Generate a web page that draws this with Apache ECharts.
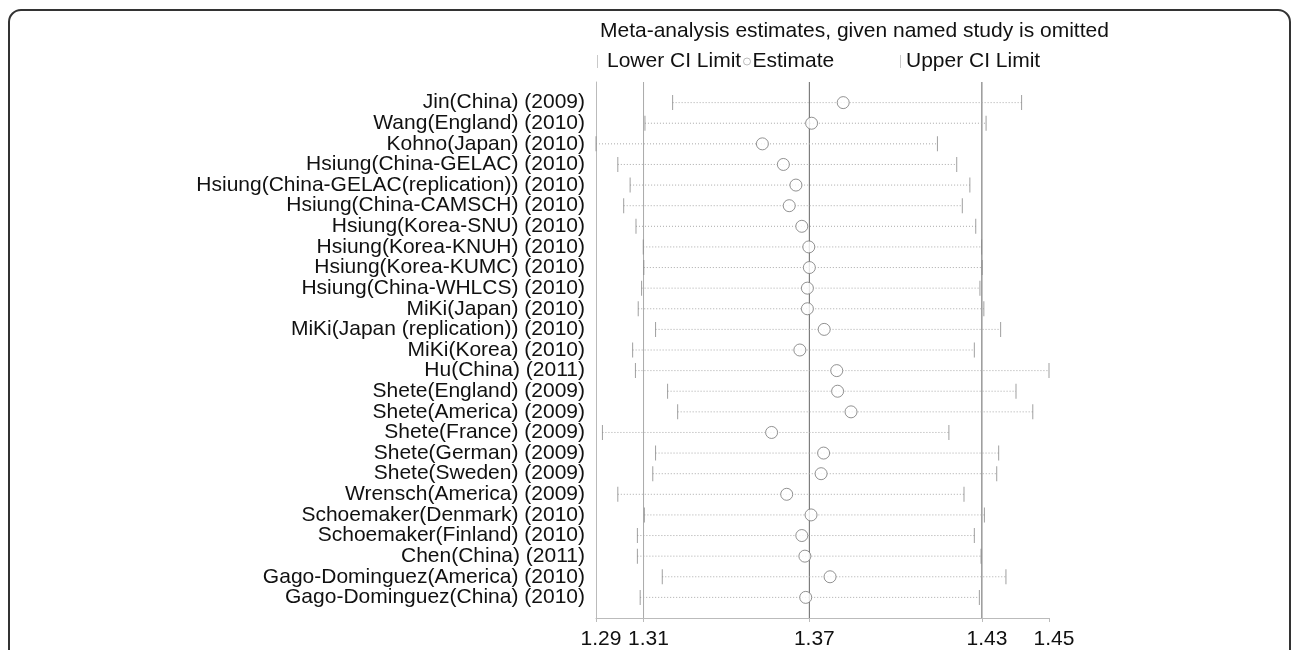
<!DOCTYPE html>
<html>
<head>
<meta charset="utf-8">
<script src="https://cdn.jsdelivr.net/npm/echarts@6/dist/echarts.min.js"></script>
<style>
  html, body { margin: 0; padding: 0; background: #fff; }
  #chart { width: 1292px; height: 650px; }
</style>
</head>
<body>
<div id="chart"></div>
<script>
// study omitted in each row
const studies = [
  'Jin(China) (2009)',
  'Wang(England) (2010)',
  'Kohno(Japan) (2010)',
  'Hsiung(China-GELAC) (2010)',
  'Hsiung(China-GELAC(replication)) (2010)',
  'Hsiung(China-CAMSCH) (2010)',
  'Hsiung(Korea-SNU) (2010)',
  'Hsiung(Korea-KNUH) (2010)',
  'Hsiung(Korea-KUMC) (2010)',
  'Hsiung(China-WHLCS) (2010)',
  'MiKi(Japan) (2010)',
  'MiKi(Japan (replication)) (2010)',
  'MiKi(Korea) (2010)',
  'Hu(China) (2011)',
  'Shete(England) (2009)',
  'Shete(America) (2009)',
  'Shete(France) (2009)',
  'Shete(German) (2009)',
  'Shete(Sweden) (2009)',
  'Wrensch(America) (2009)',
  'Schoemaker(Denmark) (2010)',
  'Schoemaker(Finland) (2010)',
  'Chen(China) (2011)',
  'Gago-Dominguez(America) (2010)',
  'Gago-Dominguez(China) (2010)',
]
const lowerCI = [1.3189, 1.3090, 1.2915, 1.2993, 1.3037, 1.3014, 1.3058, 1.3084, 1.3086, 1.3078,
  1.3066, 1.3128, 1.3046, 1.3056, 1.3171, 1.3207, 1.2938, 1.3128, 1.3118, 1.2993,
  1.3088, 1.3063, 1.3063, 1.3152, 1.3073]
const estimate = [1.3799, 1.3686, 1.3510, 1.3585, 1.3630, 1.3606, 1.3651, 1.3676, 1.3678, 1.3671,
  1.3671, 1.3731, 1.3644, 1.3776, 1.3779, 1.3827, 1.3543, 1.3729, 1.3720, 1.3597,
  1.3684, 1.3651, 1.3662, 1.3752, 1.3665]
const upperCI = [1.4437, 1.4310, 1.4136, 1.4205, 1.4252, 1.4225, 1.4273, 1.4294, 1.4296, 1.4288,
  1.4302, 1.4362, 1.4268, 1.4535, 1.4417, 1.4477, 1.4177, 1.4355, 1.4348, 1.4231,
  1.4304, 1.4268, 1.4292, 1.4381, 1.4286]
// pooled estimate with all studies: lower, estimate, upper
const overall = [1.3085, 1.3678, 1.4295]
const overallColors = ['#aaa', '#666', '#666']

const xMin = Math.min(...lowerCI)
const xMax = Math.max(...upperCI)
const xTicks = [xMin, ...overall, xMax]
// blank slots above and below the rows, like the padding in the original plot
const yCategories = ['', ...studies, ' ']
const rowIndex = studies.map((_, i) => i + 1)

const fontFamily = 'Liberation Sans, Arial, sans-serif'
const chart = echarts.init(document.getElementById('chart'), null, { renderer: 'canvas' })

chart.setOption({
  animation: false,
  backgroundColor: '#fff',
  textStyle: { fontFamily },
  title: {
    text: 'Meta-analysis estimates, given named study is omitted',
    left: 600,
    top: 21,
    padding: 0,
    textStyle: { fontSize: 21, fontWeight: 'normal', color: '#111', fontFamily },
  },
  legend: [
    {
      data: [{ name: 'Lower CI Limit', icon: 'rect', itemStyle: { color: '#bbb' } }],
      left: 597, top: 51, padding: 0,
      itemWidth: 1, itemHeight: 13,
      textStyle: { fontSize: 21, color: '#111', fontFamily, padding: [0, 0, 0, 4] },
    },
    {
      data: [{ name: 'Estimate', icon: 'circle', itemStyle: { color: '#fff', borderColor: '#aaa', borderWidth: 1 } }],
      left: 743, top: 51, padding: 0,
      itemWidth: 7, itemHeight: 7,
      textStyle: { fontSize: 21, color: '#111', fontFamily, padding: [0, 0, 0, -3] },
    },
    {
      data: [{ name: 'Upper CI Limit', icon: 'rect', itemStyle: { color: '#bbb' } }],
      left: 900, top: 51, padding: 0,
      itemWidth: 1, itemHeight: 13,
      textStyle: { fontSize: 21, color: '#111', fontFamily },
    },
  ],
  grid: { left: 596, right: 243, top: 82, bottom: 32, outerBoundsMode: 'none' },
  xAxis: {
    type: 'value',
    position: 'bottom',
    min: xMin,
    max: xMax,
    splitLine: { show: false },
    axisLine: { show: true, onZero: false, lineStyle: { color: '#bbb', width: 1 } },
    axisTick: { show: true, customValues: xTicks, length: 4, lineStyle: { color: '#bbb' } },
    axisLabel: {
      customValues: xTicks,
      formatter: (v) => v.toFixed(2),
      fontSize: 21,
      color: '#111',
      margin: 11,
      padding: [0, 0, 0, 10],
    },
  },
  yAxis: {
    type: 'category',
    data: yCategories,
    inverse: true,
    boundaryGap: false,
    splitLine: { show: false },
    axisLine: { show: true, onZero: false, lineStyle: { color: '#bbb', width: 1 } },
    axisTick: { show: false },
    axisLabel: {
      interval: 0,
      fontSize: 21,
      color: '#111',
      margin: 11,
    },
  },
  graphic: [
    {
      type: 'rect',
      shape: { x: 9, y: 10, width: 1281, height: 700, r: 12 },
      style: { fill: 'none', stroke: '#333', lineWidth: 2 },
      silent: true,
      z: 100,
    },
  ],
  series: [
    {
      // vertical lines at the pooled lower limit, estimate and upper limit
      name: 'Overall',
      type: 'custom',
      silent: true,
      dimensions: ['x', 'row'],
      encode: { x: 'x', y: 'row' },
      data: overall.map((v) => [v, 0]),
      renderItem: (params, api) => {
        const top = api.coord([api.value(0), 0])
        const bottom = api.coord([api.value(0), yCategories.length - 1])
        return {
          type: 'line',
          shape: { x1: top[0], y1: top[1], x2: bottom[0], y2: bottom[1] },
          style: { stroke: overallColors[params.dataIndex], lineWidth: 1 },
        }
      },
      z: 1,
    },
    {
      name: 'CI',
      type: 'custom',
      dimensions: ['lo', 'hi', 'row'],
      encode: { x: ['lo', 'hi'], y: 'row' },
      data: rowIndex.map((r, i) => [lowerCI[i], upperCI[i], r]),
      renderItem: (params, api) => {
        const y = api.value(2)
        const p1 = api.coord([api.value(0), y])
        const p2 = api.coord([api.value(1), y])
        return {
          type: 'line',
          shape: { x1: p1[0], y1: p1[1], x2: p2[0], y2: p2[1] },
          style: { stroke: '#aaa', lineWidth: 1, lineDash: [1, 2] },
        }
      },
      z: 2,
    },
    {
      name: 'Lower CI Limit',
      type: 'scatter',
      symbol: 'rect',
      symbolSize: [1, 15],
      itemStyle: { color: '#888' },
      data: rowIndex.map((r, i) => [lowerCI[i], r]),
      z: 3,
    },
    {
      name: 'Upper CI Limit',
      type: 'scatter',
      symbol: 'rect',
      symbolSize: [1, 15],
      itemStyle: { color: '#888' },
      data: rowIndex.map((r, i) => [upperCI[i], r]),
      z: 3,
    },
    {
      name: 'Estimate',
      type: 'scatter',
      symbol: 'circle',
      symbolSize: 12,
      itemStyle: { color: '#fff', borderColor: '#777', borderWidth: 1 },
      data: rowIndex.map((r, i) => [estimate[i], r]),
      z: 4,
    },
  ],
})
</script>
</body>
</html>
